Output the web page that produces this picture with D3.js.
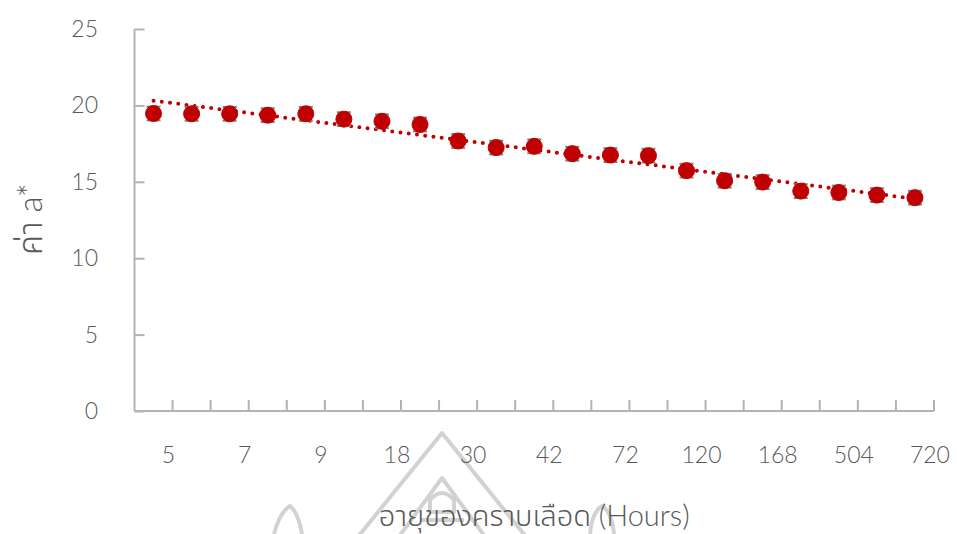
<!DOCTYPE html>
<html>
<head>
<meta charset="utf-8">
<script src="https://cdn.jsdelivr.net/npm/d3@7"></script>
<style>
  html, body { margin: 0; padding: 0; background: #fff; }
  svg { display: block; }
  text { font-family: Lato, "Noto Sans", sans-serif; fill: #595959; }
  .thai { font-family: Lato, "Noto Sans Thai", "Noto Sans Thai UI", "Noto Sans Thai Looped", Loma, Garuda, "Noto Sans", sans-serif; }
</style>
</head>
<body>
<svg id="chart" width="957" height="534"></svg>
<script>
// Age of the blood stain (hours) and the measured a* value
const hours = ["5", "6", "7", "8", "9", "12", "18", "24", "30", "36", "42",
               "48", "72", "96", "120", "144", "168", "336", "504", "672", "720"];
const aStar = [19.47, 19.45, 19.45, 19.36, 19.45, 19.1, 18.96, 18.75, 17.67, 17.24, 17.32,
               16.84, 16.75, 16.71, 15.73, 15.07, 14.98, 14.39, 14.3, 14.13, 13.96];
const aErr  = [0.45, 0.45, 0.45, 0.45, 0.45, 0.45, 0.45, 0.45, 0.45, 0.45, 0.45,
               0.45, 0.45, 0.45, 0.45, 0.45, 0.45, 0.45, 0.45, 0.45, 0.45];
const yTicks = [0, 5, 10, 15, 20, 25];
const xLabelEvery = 2;

const svg = d3.select("#chart");
const plotL = 134.5, plotR = 934, plotT = 29, plotB = 411;

const x = d3.scaleBand().domain(hours).range([plotL, plotR]).padding(0);
const y = d3.scaleLinear().domain([0, 25]).range([plotB, plotT]);
const cx = d => x(d) + x.bandwidth() / 2;

// faint emblem behind the axis titles
const mark = svg.append("g").attr("fill", "none").attr("stroke", "#d2d2d2")
  .attr("stroke-width", 4).attr("stroke-linejoin", "round");
mark.append("path").attr("d", "M357,538 L442,433 L527,538");
mark.append("path").attr("d", "M398,538 L442,478 L486,538");
mark.append("path").attr("d", "M430,500 Q442,486 454,500 L454,512 L430,512 Z");
mark.append("path").attr("d", "M420,520 L464,520");
mark.append("path").attr("d", "M274,534 Q280,512 290,506 Q298,512 302,534");
mark.append("path").attr("d", "M590,534 Q592,512 602,506 Q612,512 614,534");

// axes
const axisColor = "#b3b3b3";
const yAxis = svg.append("g").attr("transform", `translate(${plotL},0)`)
  .call(d3.axisRight(y).tickValues(yTicks).tickSize(10).tickFormat(""));
yAxis.select(".domain").attr("stroke", axisColor).attr("stroke-width", 2)
  .attr("d", `M0,${plotT}V${plotB}`);
yAxis.selectAll(".tick line").attr("stroke", axisColor).attr("stroke-width", 2);

svg.append("g").selectAll("text").data(yTicks).join("text")
  .attr("x", 98).attr("y", d => y(d) + 8)
  .attr("text-anchor", "end").attr("font-size", 23).attr("font-weight", 300)
  .text(d => d);

const boundaries = hours.map(h => x(h) + x.bandwidth());
svg.append("line").attr("x1", plotL).attr("x2", plotR).attr("y1", plotB).attr("y2", plotB)
  .attr("stroke", axisColor).attr("stroke-width", 2);
svg.append("g").selectAll("line").data(boundaries).join("line")
  .attr("x1", d => d).attr("x2", d => d).attr("y1", plotB).attr("y2", plotB - 11)
  .attr("stroke", axisColor).attr("stroke-width", 2);

svg.append("g").selectAll("text")
  .data(hours.filter((h, i) => i % xLabelEvery === 0))
  .join("text")
  .attr("x", d => cx(d) + 15).attr("y", 463)
  .attr("text-anchor", "middle").attr("font-size", 23).attr("font-weight", 300)
  .text(d => d);

// axis titles
svg.append("text").attr("class", "thai")
  .attr("x", (plotL + plotR) / 2).attr("y", 526)
  .attr("text-anchor", "middle").attr("font-size", 29).attr("font-weight", 300)
  .text("อายุของคราบเลือด (Hours)");
svg.append("text").attr("class", "thai")
  .attr("transform", "translate(42,219) rotate(-90)")
  .attr("text-anchor", "middle").attr("font-size", 33).attr("font-weight", 300)
  .text("ค่า a*");

// least-squares linear trend over the category index
const idx = aStar.map((v, i) => i + 1);
const mx = d3.mean(idx), my = d3.mean(aStar);
const slope = d3.sum(idx, (t, i) => (t - mx) * (aStar[i] - my)) / d3.sum(idx, t => (t - mx) ** 2);
const icpt = my - slope * mx;
const trend = [0, hours.length - 1].map(i => [cx(hours[i]), y(icpt + slope * (i + 1))]);
svg.append("path").attr("d", d3.line()(trend))
  .attr("fill", "none").attr("stroke", "#c00000").attr("stroke-width", 4)
  .attr("stroke-linecap", "round").attr("stroke-dasharray", "0 8.3");

// error bars
const red = "#c00000";
const eb = svg.append("g").attr("stroke", "#7f7f7f").attr("stroke-width", 2);
hours.forEach((h, i) => {
  const px = cx(h), hi = y(aStar[i] + aErr[i]), lo = y(aStar[i] - aErr[i]);
  eb.append("line").attr("x1", px).attr("x2", px).attr("y1", hi).attr("y2", lo);
  eb.append("line").attr("x1", px - 7).attr("x2", px + 7).attr("y1", hi).attr("y2", hi);
  eb.append("line").attr("x1", px - 7).attr("x2", px + 7).attr("y1", lo).attr("y2", lo);
});

// markers
svg.append("g").selectAll("circle").data(hours).join("circle")
  .attr("cx", d => cx(d)).attr("cy", (d, i) => y(aStar[i]))
  .attr("r", 8).attr("fill", red).attr("stroke", red).attr("stroke-width", 1);
</script>
</body>
</html>
